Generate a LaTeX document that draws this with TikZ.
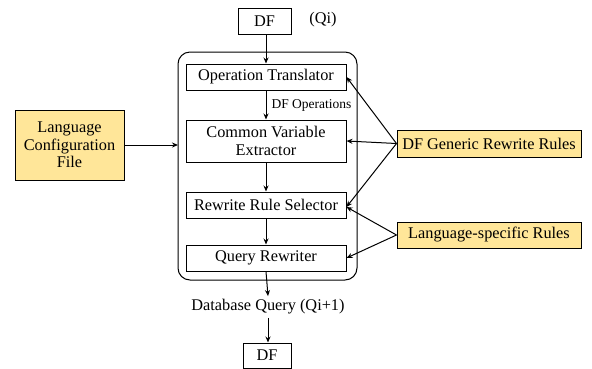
\documentclass[tikz,border=0pt]{standalone}
\usepackage{fontspec}
\setmainfont{Liberation Serif}
\usetikzlibrary{arrows.meta}
\definecolor{ylw}{RGB}{255,230,153}
\begin{document}
\begin{tikzpicture}[x=1pt,y=-1pt,
  every node/.style={font=\fontsize{16.3}{18.5}\selectfont},
  proc/.style={draw,line width=1pt,minimum width=160pt,inner sep=0pt,align=center},
  ybox/.style={draw,line width=1pt,fill=ylw,inner sep=0pt,align=center},
  arr/.style={-{Stealth[length=6pt,width=5pt]},line width=1pt}]
\useasboundingbox (0,0) rectangle (592,368);
\node[draw,line width=1pt,minimum width=53pt,minimum height=26pt,inner sep=0pt] (df1) at (264.5,21) {DF};
\node (qi) at (323,20) {(Qi)};
\draw[line width=1pt,rounded corners=12pt] (178,52) rectangle (357,280);
\coordinate (boxl) at (178,145);
\node[proc,minimum height=26pt] (ot) at (266,77) {Operation Translator};
\node[proc,minimum height=42pt] (cve) at (266,141) {Common Variable\\[-1pt]Extractor};
\node[proc,minimum height=26pt] (rrs) at (266,205) {Rewrite Rule Selector};
\node[proc,minimum height=26pt] (qr) at (266,258) {Query Rewriter};
\node[anchor=west,font=\fontsize{13.5}{15}\selectfont] (dfo) at (268,105) {DF Operations};
\node (dbq) at (268,307) {Database Query (Qi+1)};
\node[draw,line width=1pt,minimum width=48pt,minimum height=25pt,inner sep=0pt] (df2) at (267,355.5) {DF};
\node[ybox,minimum width=109pt,minimum height=70pt] (lcf) at (69.5,145) {Language\\[-1pt]Configuration\\[-1pt]File};
\node[ybox,minimum width=184pt,minimum height=27pt] (gen) at (489,143.5) {DF Generic Rewrite Rules};
\node[ybox,minimum width=184pt,minimum height=26pt] (lsr) at (489,235) {Language-specific Rules};
\draw[arr] (df1.south -| ot.north) -- (ot.north);
\draw[arr] (ot.south) -- (cve.north);
\draw[arr] (cve.south) -- (rrs.north);
\draw[arr] (rrs.south) -- (qr.north);
\draw[arr] (qr.south) -- (dbq.north);
\draw[arr] (dbq.south) -- (df2.north -| dbq.south);
\draw[arr] (lcf.east) -- (boxl);
\draw[arr] (gen.west) -- (ot.east);
\draw[arr] (gen.west) -- (cve.east);
\draw[arr] (gen.west) -- ([yshift=-2pt]rrs.east);
\draw[arr] (lsr.west) -- ([yshift=-2pt]rrs.east);
\draw[arr] (lsr.west) -- (qr.east);
\end{tikzpicture}
\end{document}
